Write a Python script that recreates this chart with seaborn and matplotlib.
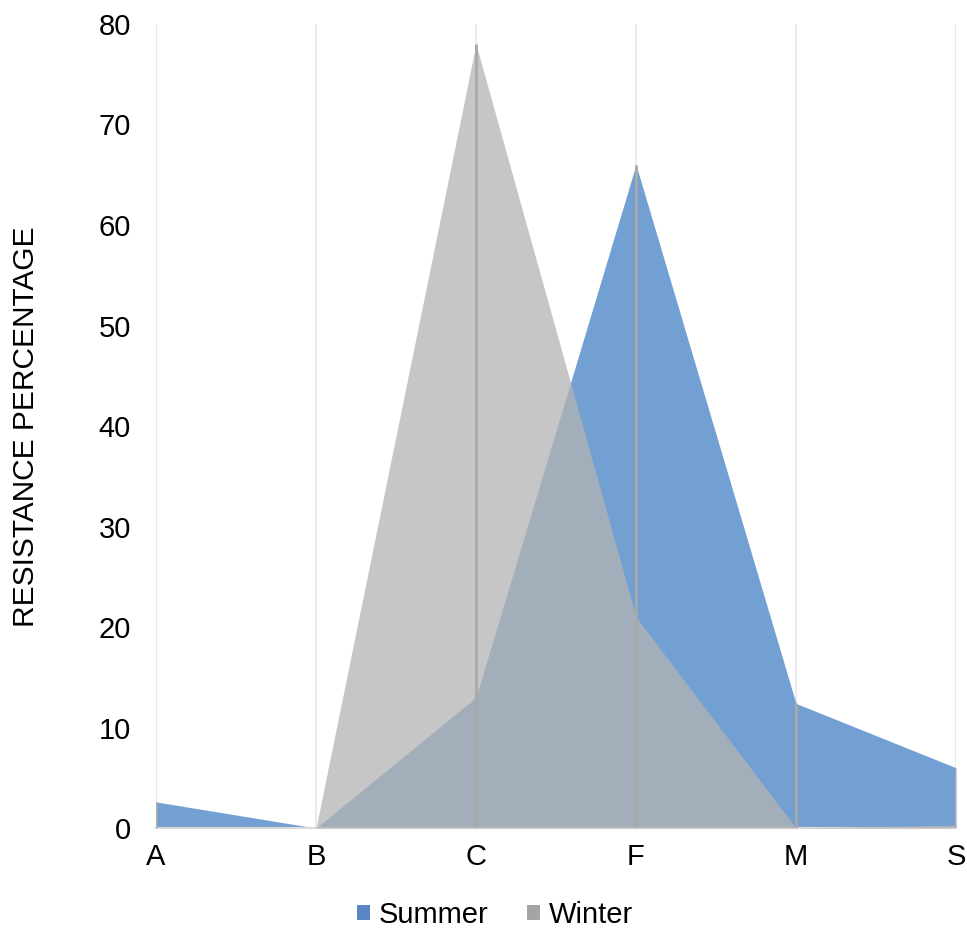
import matplotlib
matplotlib.use("Agg")
import matplotlib.pyplot as plt
from matplotlib.patches import Patch
import seaborn as sns
import pandas as pd

# Resistance percentage by category for each season
categories = ["A", "B", "C", "F", "M", "S"]
summer = [2.6, 0.0, 13.0, 66.0, 12.4, 6.0]
winter = [0.0, 0.0, 78.0, 21.0, 0.0, 0.3]
y_ticks = [0, 10, 20, 30, 40, 50, 60, 70, 80]

sns.set_theme(style="white")
plt.rcParams["font.family"] = ["Liberation Sans", "DejaVu Sans"]
plt.rcParams["text.color"] = "black"
plt.rcParams["axes.labelcolor"] = "black"

df = pd.DataFrame({"category": categories, "Summer": summer, "Winter": winter})
df["pos"] = range(len(categories))
long = df.melt(id_vars=["category", "pos"], value_vars=["Summer", "Winter"],
               var_name="season", value_name="value")

blue = "#73A0D2"
grey = "#B4B4B4"

fig = plt.figure(figsize=(9.67, 9.33), dpi=100)
ax = fig.add_axes([0.1613, 0.1125, 0.8273, 0.8618])

# vertical category gridlines
for p in df["pos"]:
    ax.axvline(p, color="#E6E6E6", lw=1.2, zorder=0)

# outlines through seaborn, areas filled underneath
sns.lineplot(data=long, x="pos", y="value", hue="season",
             palette={"Summer": blue, "Winter": grey}, lw=0,
             legend=False, ax=ax)
ax.fill_between(df["pos"], 0, df["Summer"], color=blue, lw=0, zorder=2)
ax.fill_between(df["pos"], 0, df["Winter"], color=grey, alpha=0.75, lw=0, zorder=3)

# drop lines from the top of each area down to the axis
for p, s, w in zip(df["pos"], df["Summer"], df["Winter"]):
    top = max(s, w)
    if top > 0:
        ax.plot([p, p], [0, top], color="#A9A9A9", lw=2, zorder=4,
                solid_capstyle="butt")

ax.set_xlim(0, len(categories) - 1)
ax.set_ylim(0, 80)
ax.set_xticks(df["pos"])
ax.set_xticklabels(categories)
ax.set_yticks(y_ticks)
ax.tick_params(axis="both", length=0, labelsize=21, colors="black")
ax.tick_params(axis="x", pad=11)
ax.tick_params(axis="y", pad=18)
ax.set_xlabel("")
ax.set_ylabel("RESISTANCE PERCENTAGE", fontsize=21.5, va="center")
ax.yaxis.set_label_coords(-0.162, 0.499)
ax.grid(False)

for side in ["top", "right", "left"]:
    ax.spines[side].set_visible(False)
ax.spines["bottom"].set_color("#D9D9D9")
ax.spines["bottom"].set_linewidth(1.5)

handles = [Patch(facecolor="#5B86C3", edgecolor="none", label="Summer"),
           Patch(facecolor="#A5A5A5", edgecolor="none", label="Winter")]
fig.legend(handles=handles, loc="center", bbox_to_anchor=(0.512, 1 - 915 / 933),
           ncol=2, frameon=False, fontsize=21, handlelength=0.45,
           handleheight=0.45, handletextpad=0.3, columnspacing=1.3)

fig.savefig("out.png", dpi=100)
